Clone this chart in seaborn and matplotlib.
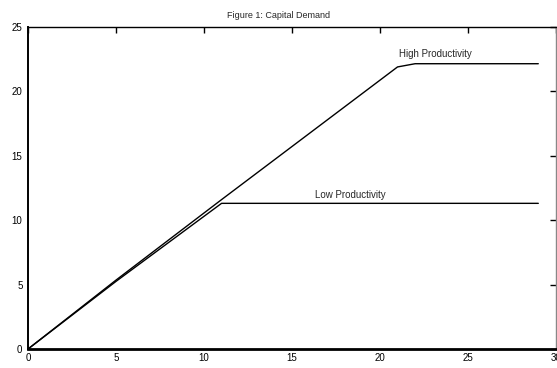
import matplotlib
matplotlib.use("Agg")
import matplotlib.pyplot as plt
import seaborn as sns
import pandas as pd

# Capital demand schedules
high_x = [0, 5, 11, 21, 22, 29]
high_y = [0, 5.35, 11.6, 21.9, 22.15, 22.15]
low_x = [0, 5, 11, 29]
low_y = [0, 5.25, 11.31, 11.31]

title = "Figure 1: Capital Demand"
x_ticks = [0, 5, 10, 15, 20, 25, 30]
y_ticks = [0, 5, 10, 15, 20, 25]

df = pd.concat([
    pd.DataFrame({"x": high_x, "y": high_y, "series": "High Productivity"}),
    pd.DataFrame({"x": low_x, "y": low_y, "series": "Low Productivity"}),
])

sns.set_style("white")
plt.rcParams["font.family"] = ["Liberation Sans", "DejaVu Sans"]

fig = plt.figure(figsize=(5.57, 3.68), dpi=100)
ax = fig.add_axes([0.0503, 0.0516, 0.9477, 0.875])

sns.lineplot(data=df, x="x", y="y", units="series", estimator=None,
             color="black", linewidth=1.0, sort=False, ax=ax, legend=False)

ax.set_xlim(0, 30)
ax.set_ylim(0, 25)
ax.set_xticks(x_ticks)
ax.set_yticks(y_ticks)
ax.set_xlabel("")
ax.set_ylabel("")
ax.tick_params(direction="in", length=4, width=1, colors="black",
               labelsize=7, top=True, right=True)
ax.tick_params(axis="y", pad=4)
ax.tick_params(axis="x", pad=3)

for side in ["left", "bottom", "top", "right"]:
    ax.spines[side].set_visible(True)
    ax.spines[side].set_color("black")
ax.spines["left"].set_linewidth(1.4)
ax.spines["bottom"].set_linewidth(2.0)
ax.spines["top"].set_linewidth(1.0)
ax.spines["right"].set_linewidth(1.0)
ax.spines["right"].set_color("#888888")

ax.text(21.1, 22.5, "High Productivity", fontsize=7, ha="left", va="bottom")
ax.text(16.3, 11.6, "Low Productivity", fontsize=7, ha="left", va="bottom")

fig.text(0.5, 0.958, title, fontsize=6.5, ha="center", va="center")

fig.savefig("out.png", dpi=100)
